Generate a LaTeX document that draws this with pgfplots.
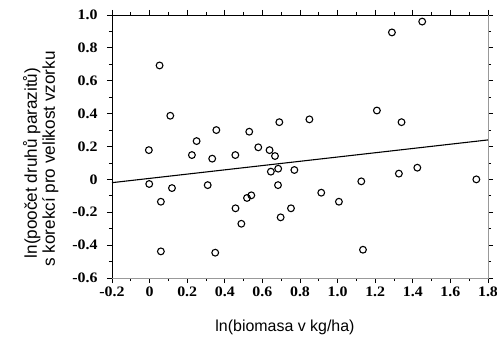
\documentclass[border=0pt]{standalone}
\usepackage{fontspec}
\setmainfont{Liberation Serif}
\newfontfamily\arialf{Liberation Sans}
\newfontfamily\tickf[FakeStretch=1.1]{Liberation Serif}
\usepackage{pgfplots}
\pgfplotsset{compat=1.18}
\begin{document}
\begin{tikzpicture}[x=1bp,y=1bp]
\begin{axis}[
  at={(0,0)}, anchor=south west,
  scale only axis, width=376bp, height=263bp,
  xmin=-0.2, xmax=1.8, ymin=-0.6, ymax=1.0,
  xtick={-0.2,0,0.2,0.4,0.6,0.8,1.0,1.2,1.4,1.6,1.8},
  xticklabels={-0.2,0,0.2,0.4,0.6,0.8,1.0,1.2,1.4,1.6,1.8},
  ytick={-0.6,-0.4,-0.2,0,0.2,0.4,0.6,0.8,1.0},
  yticklabels={-0.6,-0.4,-0.2,0,0.2,0.4,0.6,0.8,1.0},
  minor tick num=1,
  tick align=outside,
  xtick pos=both, ytick pos=both,
  xticklabel pos=lower, yticklabel pos=left,
  major tick length=5bp, minor tick length=3bp,
  tick style={black, line width=0.8pt},
  axis line style={draw=none},
  xticklabel style={font=\tickf\fontsize{14.5}{16}\selectfont\bfseries},
  yticklabel style={font=\tickf\fontsize{14.5}{16}\selectfont\bfseries, xshift=-6bp},
  /pgf/number format/assume math mode=true,
  clip=false,
]
\draw[line width=0.9pt] (rel axis cs:0,0) -- (rel axis cs:0,1) -- (rel axis cs:1,1);
\draw[line width=0.3pt, black!40] (rel axis cs:0,0) -- (rel axis cs:1,0) -- (rel axis cs:1,1);
\addplot[black, line width=1.1pt] coordinates {(-0.2,-0.02) (1.8,0.24)};
\addplot[only marks, mark=o, mark size=3.4pt, mark options={line width=1.1pt, black}] coordinates {
(0.053,0.693) (0.11,0.387) (0.355,0.30) (0.25,0.233) (0.53,0.29)
(0.69,0.348) (0.85,0.365) (-0.004,0.178) (0.578,0.195) (0.638,0.178)
(0.667,0.142) (0.225,0.148) (0.333,0.126) (0.456,0.148) (0.645,0.047)
(0.684,0.065) (0.77,0.057) (-0.002,-0.028) (0.119,-0.053) (0.309,-0.035)
(0.683,-0.035) (0.06,-0.136) (0.518,-0.113) (0.541,-0.097) (0.457,-0.176)
(0.752,-0.176) (0.697,-0.231) (0.488,-0.27) (0.06,-0.438) (0.349,-0.446)
(0.913,-0.081) (1.007,-0.136) (1.126,-0.012) (1.135,-0.428) (1.326,0.035)
(1.424,0.071) (1.738,0.0) (1.209,0.419) (1.34,0.348) (1.289,0.894) (1.45,0.96)
};
\end{axis}
\node[rotate=90, anchor=base, font=\arialf\fontsize{17.2}{18}\selectfont] at (-75bp,115bp) {ln(poočet druhů parazitů)};
\node[rotate=90, anchor=base, font=\arialf\fontsize{17.2}{18}\selectfont] at (-57bp,119bp) {s korekcí pro velikost vzorku};
\node[font=\arialf\fontsize{16}{18}\selectfont] at (173bp,-49bp) {ln(biomasa v kg/ha)};
\pgfresetboundingbox
\path (-112bp,-64bp) rectangle (385bp,278bp);
\end{tikzpicture}
\end{document}
